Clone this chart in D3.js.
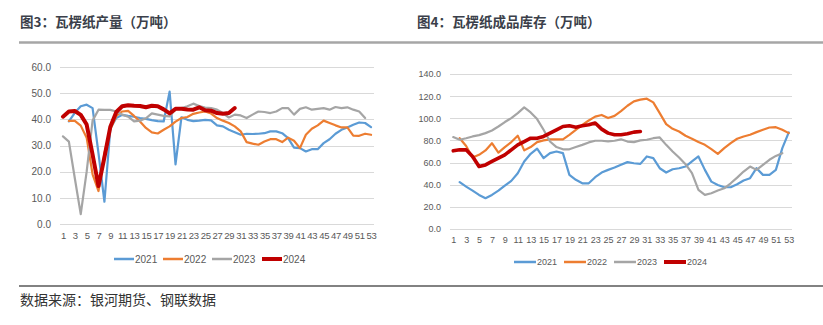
<!DOCTYPE html>
<html><head><meta charset="utf-8">
<script src="https://cdn.jsdelivr.net/npm/d3@7/dist/d3.min.js"></script>
<style>
html,body{margin:0;padding:0;background:#fff;}
svg{display:block;}
</style></head>
<body>
<script>
const weeks = [1,2,3,4,5,6,7,8,9,10,11,12,13,14,15,16,17,18,19,20,21,22,23,24,25,26,27,28,29,30,31,32,33,34,35,36,37,38,39,40,41,42,43,44,45,46,47,48,49,50,51,52,53];
const weekTicks = [1,3,5,7,9,11,13,15,17,19,21,23,25,27,29,31,33,35,37,39,41,43,45,47,49,51,53];
const seriesNames = ["2021","2022","2023","2024"];
const seriesColors = ["#5B9BD5","#ED7D31","#A5A5A5","#C00000"];

const titleLeft = "图3：瓦楞纸产量（万吨）";
const titleRight = "图4：瓦楞纸成品库存（万吨）";
const sourceText = "数据来源：银河期货、钢联数据";

const prodTicks = [0,10,20,30,40,50,60];
const prod2021 = [null,39.2,42.5,45,45.6,44.3,27,8.5,36.5,40.5,41.7,41.3,41,40.5,40.2,39.7,39.3,39.2,50.6,22.8,40.8,39.8,39.3,39.5,39.8,39.6,37.7,37.3,36,35.1,34.1,34.5,34.4,34.5,34.7,35.4,35.4,34.7,32.8,29.2,29,27.7,28.6,28.6,30.9,32.4,34.5,36,36.9,37.9,38.8,38.6,37];
const prod2022 = [null,39.4,39.4,37.6,33,19,12.6,27,36.3,41.3,43,43.2,41.3,39.2,36.7,35,34.6,36,37.3,39.1,40.5,40.9,42.1,42.6,43,42.2,40.5,39.5,38.6,37.3,35.4,31.3,30.7,30.3,31.5,32.4,32.4,31.3,33,31.8,29,34.1,36.4,37.7,39.5,38.6,37.7,36.9,36.9,33.8,33.7,34.5,34.1];
const prod2023 = [33.5,31.5,17.5,3.8,20,39.5,43.7,43.6,43.6,43,41.8,41,39.2,39.5,40.4,42.3,41.8,41.3,41.1,43.9,44.3,45,46,45.1,44.5,44.3,43.7,42.4,40.7,41.8,41.5,40.5,41.8,43,42.8,42.4,43,44.3,44.3,41.8,44,44.6,43.7,44,44.3,43.7,44.7,44.3,44.6,43.7,43,40.5,null];
const prod2024 = [41,43,43.2,41.7,38,26.5,14.5,25.5,37.2,42.8,45,45.4,45.2,45.1,44.6,45.2,45,43.8,42.3,44,44,43.8,43.7,44.6,43.5,43.3,42.4,42.1,42.4,44.3,null,null,null,null,null,null,null,null,null,null,null,null,null,null,null,null,null,null,null,null,null,null,null];

const invTicks = [0,20,40,60,80,100,120,140];
const inv2021 = [null,42.3,38.3,34.7,30.8,27.8,30.8,34.7,39.2,43.5,50.4,61,67.9,72.5,64,68.5,70,68.5,48.9,44.4,41.3,41.3,46.8,51,53.4,55.5,58,60.4,59.4,58.8,65.5,64,54.9,51,54,54.9,56.4,61,65.5,53.4,42.8,39.8,37.7,37.7,40.4,43.8,45.9,54.9,48.9,48.9,53.4,73,87.2];
const inv2022 = [null,82,75,64.5,67,71,77.5,69,74,78.5,84.3,71,74,78.5,80,81,81,81,85,89.5,94,98,101.5,103,100.2,102.2,106.5,111.3,115.3,116.8,117.7,114.4,104.7,94.7,90.5,88.1,84.2,81.5,78.5,76,72.1,67.9,73,77.5,81.5,83.6,85.1,87.5,89.6,91.7,92,89.6,86.6];
const inv2023 = [83,80.6,82,83.6,84.8,86.6,89,92.6,96.6,100.2,104.7,109.8,105.3,99.3,89.6,79,74,72,72,74,76,78.2,79.7,79.7,79.2,79.7,81,79,78.5,80,80.6,82,82.7,76,70,64.6,58.5,50.4,35.3,30.8,32.3,34.7,36.8,41.3,46.4,51.9,56.4,53.4,58,62.5,66,68.5,null];
const inv2024 = [70.6,71.5,71.5,65.5,56.5,57.9,61,64,67,71.5,76,79,82,82,83.6,86.6,89.6,92.6,93.2,92,93.2,94.1,95.7,90.2,86.6,85.1,85.1,86,87.5,88.1,null,null,null,null,null,null,null,null,null,null,null,null,null,null,null,null,null,null,null,null,null,null,null];

const W = 823, H = 325;
const svg = d3.select("body").append("svg").attr("width", W).attr("height", H)
  .style("background", "#fff");

const titleFont = "'Noto Sans CJK SC','Noto Sans',sans-serif";
const numFont = "'Liberation Sans',Arial,sans-serif";

// titles
svg.append("text").attr("x", 20).attr("y", 27).text(titleLeft)
  .attr("font-family", titleFont).attr("font-weight", "bold").attr("font-size", 13.5).attr("fill", "#3b3f4a");
svg.append("text").attr("x", 417).attr("y", 27).text(titleRight)
  .attr("font-family", titleFont).attr("font-weight", "bold").attr("font-size", 13.5).attr("fill", "#3b3f4a");
svg.append("line").attr("x1", 19).attr("x2", 823).attr("y1", 42.5).attr("y2", 42.5)
  .attr("stroke", "#a6a6a6").attr("stroke-width", 2.5);
svg.append("line").attr("x1", 19).attr("x2", 823).attr("y1", 286).attr("y2", 286)
  .attr("stroke", "#595959").attr("stroke-width", 1.3);
svg.append("text").attr("x", 20).attr("y", 305).text(sourceText)
  .attr("font-family", titleFont).attr("font-size", 14).attr("fill", "#333");

function drawChart(cfg) {
  const g = svg.append("g");
  const x = d3.scalePoint().domain(weeks).range([cfg.x0, cfg.x1]).padding(0.5);
  const y = d3.scaleLinear().domain([0, d3.max(cfg.ticks)]).range([cfg.y0, cfg.y1]);

  // gridlines
  g.selectAll("line.grid").data(cfg.ticks).enter().append("line")
    .attr("x1", cfg.x0).attr("x2", cfg.x1)
    .attr("y1", d => Math.round(y(d)) + 0.5).attr("y2", d => Math.round(y(d)) + 0.5)
    .attr("stroke", "#d9d9d9").attr("stroke-width", 1);

  // y axis
  const ya = g.append("g").attr("transform", `translate(${cfg.x0},0)`)
    .call(d3.axisLeft(y).tickValues(cfg.ticks).tickFormat(d3.format(".1f")).tickSize(0).tickPadding(cfg.yPad));
  ya.select(".domain").remove();
  ya.selectAll("text").attr("font-family", numFont).attr("font-size", cfg.fs).attr("fill", "#595959");

  // x axis
  const xa = g.append("g").attr("transform", `translate(0,${cfg.y0})`)
    .call(d3.axisBottom(x).tickValues(weekTicks).tickSize(0).tickPadding(cfg.xPad));
  xa.select(".domain").remove();
  xa.selectAll("text").attr("font-family", numFont).attr("font-size", cfg.xfs)
    .attr("letter-spacing", cfg.xls).attr("fill", "#595959");

  const line = d3.line().defined(d => d[1] != null)
    .x(d => x(d[0])).y(d => y(d[1]));

  cfg.series.forEach((s, i) => {
    g.append("path").datum(weeks.map((w, j) => [w, s[j]]))
      .attr("d", line).attr("fill", "none")
      .attr("stroke", seriesColors[i])
      .attr("stroke-width", i === 3 ? cfg.redW : 2.2)
      .attr("stroke-linejoin", "round").attr("stroke-linecap", "round");
  });

  // legend
  const lg = g.append("g");
  seriesNames.forEach((n, i) => {
    const lx = cfg.legX[i];
    lg.append("line").attr("x1", lx).attr("x2", lx + cfg.legLen)
      .attr("y1", cfg.legY).attr("y2", cfg.legY)
      .attr("stroke", seriesColors[i]).attr("stroke-width", i === 3 ? 4 : 2.5);
    lg.append("text").attr("x", lx + cfg.legLen + 1).attr("y", cfg.legY).attr("dy", "0.35em")
      .text(n).attr("font-family", numFont).attr("font-size", cfg.fs).attr("fill", "#595959");
  });
}

drawChart({
  x0: 60, x1: 374, y0: 224, y1: 67, ticks: prodTicks,
  series: [prod2021, prod2022, prod2023, prod2024],
  fs: 10, xfs: 9.5, xls: -0.3, yPad: 9, xPad: 8, redW: 4,
  legX: [114, 163, 212, 262], legLen: 20, legY: 259
});

drawChart({
  x0: 450, x1: 792, y0: 229, y1: 74, ticks: invTicks,
  series: [inv2021, inv2022, inv2023, inv2024],
  fs: 9, xfs: 9, xls: 0, yPad: 9, xPad: 8, redW: 3.6,
  legX: [514, 564, 614, 664], legLen: 22, legY: 262
});
</script>
</body></html>
